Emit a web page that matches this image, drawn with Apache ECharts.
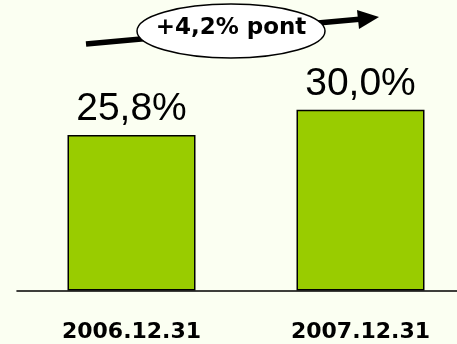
<!DOCTYPE html>
<html>
<head>
<meta charset="utf-8">
<script src="https://cdn.jsdelivr.net/npm/echarts@6/dist/echarts.min.js"></script>
<style>
html,body{margin:0;padding:0;background:#fbfff2;}
#chart{width:457px;height:344px;}
</style>
</head>
<body>
<div id="chart"></div>
<script>
const categories = ['2006.12.31', '2007.12.31'];
const values = [25.8, 30.0];
const valueLabels = ['25,8%', '30,0%'];
const annotationText = '+4,2% pont';

const chart = echarts.init(document.getElementById('chart'), null, {renderer: 'canvas'});
const option = {
  backgroundColor: '#fbfff2',
  animation: false,
  grid: {left: 17, width: 458, top: 49.5, height: 241, containLabel: false, outerBoundsMode: 'none'},
  xAxis: {
    type: 'category',
    data: categories,
    axisLine: {lineStyle: {color: '#000', width: 1.6}},
    axisTick: {show: false},
    axisLabel: {
      margin: 31,
      color: '#000',
      fontFamily: '"DejaVu Sans", sans-serif',
      fontWeight: 'bold',
      fontSize: 22
    }
  },
  yAxis: {
    type: 'value', min: 0, max: 40,
    show: false
  },
  series: [{
    type: 'bar',
    data: values,
    barWidth: 128,
    itemStyle: {color: '#99cc00', borderColor: '#000', borderWidth: 1.5},
    label: {
      show: true,
      position: 'top',
      distance: 6,
      color: '#000',
      fontFamily: '"Liberation Sans", Arial, sans-serif',
      fontSize: 39,
      formatter: p => valueLabels[p.dataIndex]
    }
  }],
  graphic: [
    {type: 'line', shape: {x1: 86, y1: 44, x2: 362, y2: 19}, style: {stroke: '#000', lineWidth: 5.5}, z: 10},
    {type: 'polygon', shape: {points: [[357, 10], [379, 17], [359, 29]]}, style: {fill: '#000'}, z: 10},
    {type: 'ellipse', shape: {cx: 231, cy: 31, rx: 94, ry: 27}, style: {fill: '#fff', stroke: '#000', lineWidth: 1.5}, z: 11},
    {type: 'text', x: 231, y: 28, style: {text: annotationText, fill: '#000', font: 'bold 23px "DejaVu Sans", sans-serif', textAlign: 'center', textVerticalAlign: 'middle'}, z: 12}
  ]
};
chart.setOption(option);
</script>
</body>
</html>
